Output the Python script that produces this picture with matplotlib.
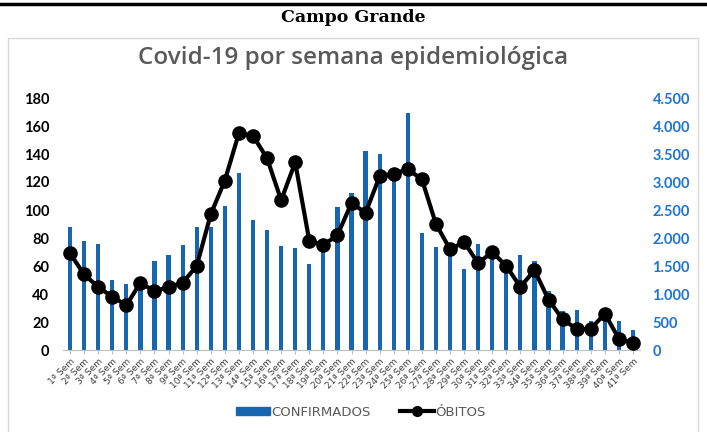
import matplotlib.pyplot as plt
from matplotlib.patches import Rectangle
from matplotlib.lines import Line2D
from matplotlib.ticker import FuncFormatter

# semanas epidemiologicas
semanas = ["%dª Sem" % i for i in range(1, 42)]

confirmados = [2205, 1940, 1895, 1255, 1180, 1150, 1590, 1700, 1870, 2205,
               2190, 2565, 3155, 2325, 2135, 1860, 1815, 1535, 1800, 2550,
               2800, 3550, 3495, 3200, 4225, 2085, 1835, 1850, 1445, 1895,
               1750, 1600, 1700, 1595, 1060, 700, 710, 520, 650, 520, 355]

obitos = [69, 54, 45, 38, 32, 48, 42, 45, 48, 60,
          97, 121, 155, 153, 137, 107, 134, 78, 75, 82,
          105, 98, 124, 126, 129, 122, 90, 72, 77, 62,
          70, 60, 45, 57, 36, 22, 15, 15, 26, 8, 5]

W, H = 707, 432
fig = plt.figure(figsize=(W / 100, H / 100), dpi=100)

# moldura e cabecalho
fig.add_artist(Line2D([0, 1], [1 - 4 / H, 1 - 4 / H], color='black', lw=2.5))
fig.add_artist(Rectangle((8 / W, -0.01), 690 / W, (H - 38) / H + 0.01,
                         fill=False, edgecolor='#d9d9d9', lw=1))
fig.text(0.5, 1 - 18 / H, "Campo Grande", ha='center', va='center',
         fontsize=12.5, fontweight='bold', family='DejaVu Serif')
fig.text(0.5, 1 - 58 / H, "Covid-19 por semana epidemiológica", ha='center',
         va='center', fontsize=17.5, color='#595959', family='Open Sans',
         fontweight='semibold')

ax = fig.add_axes([63 / W, (H - 350) / H, 577 / W, 252 / H])
ax2 = ax.twinx()
ax.set_zorder(ax2.get_zorder() + 1)
ax.patch.set_visible(False)

x = list(range(len(semanas)))
ax2.bar(x, confirmados, width=0.3, color='#1766b0', zorder=2)
ax.plot(x, obitos, color='black', lw=3, marker='o', markersize=9.5,
        markerfacecolor='black', zorder=3)

ax.set_xlim(-0.5, len(semanas) - 0.5)
ax.set_ylim(0, 180)
ax2.set_ylim(0, 4500)
ax.set_yticks(range(0, 181, 20))
ax2.set_yticks(range(0, 4501, 500))
ax2.yaxis.set_major_formatter(FuncFormatter(lambda v, p: f"{int(v):,}".replace(",", ".")))

for a in (ax, ax2):
    for s in ['top', 'left', 'right']:
        a.spines[s].set_visible(False)
ax.spines['bottom'].set_color('#bfbfbf')
ax2.spines['bottom'].set_visible(False)

ax.tick_params(axis='y', length=0, pad=10, labelsize=10.5, labelcolor='black')
for lbl in ax.get_yticklabels():
    lbl.set_fontweight('bold')
    lbl.set_family('Lato')
ax2.tick_params(axis='y', length=0, pad=9, labelsize=10.5, labelcolor='#1f74cc')
for lbl in ax2.get_yticklabels():
    lbl.set_fontweight('bold')
    lbl.set_family('Lato')

ax.set_xticks(x)
ax.set_xticklabels(semanas, rotation=45, ha='right', rotation_mode='anchor',
                   fontsize=6.5, color='#404040')
ax.tick_params(axis='x', length=3, color='#bfbfbf', pad=2)

handles = [Rectangle((0, 0), 1, 1, color='#1766b0'),
           Line2D([], [], color='black', lw=3, marker='o', markersize=7)]
fig.legend(handles, ["CONFIRMADOS", "ÓBITOS"], loc='center',
           bbox_to_anchor=(0.51, 1 - 412 / H), ncol=2, frameon=False,
           fontsize=9.5, labelcolor='#595959', handlelength=2.6,
           handleheight=0.5, handletextpad=0.1, columnspacing=2.2)

fig.savefig('out.png', dpi=100)
